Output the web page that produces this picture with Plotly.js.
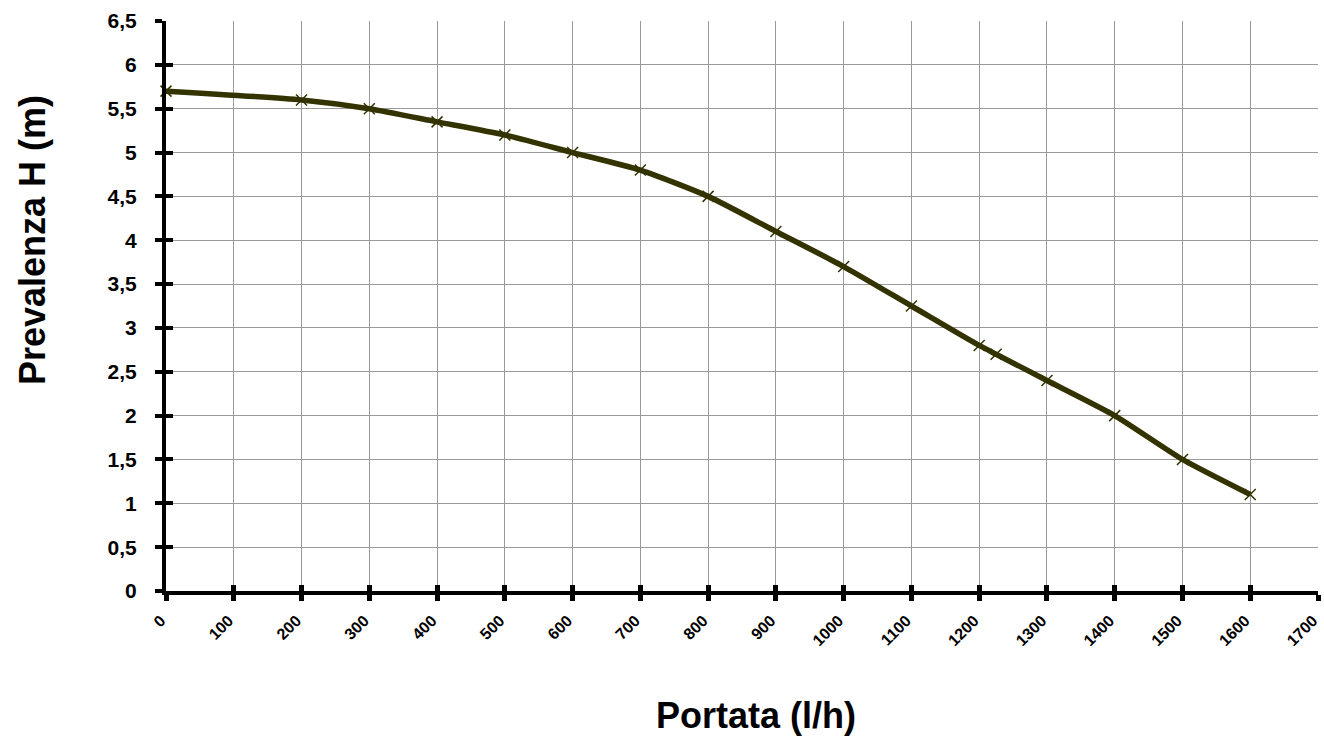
<!DOCTYPE html>
<html><head><meta charset="utf-8">
<script src="https://cdn.plot.ly/plotly-3.0.1.min.js"></script>
<style>html,body{margin:0;padding:0;background:#fff}#c{width:1324px;height:743px}</style>
</head><body><div id="c"></div>
<script>
const portata = [0,200,300,400,500,600,700,800,900,1000,1100,1200,1225,1300,1400,1500,1600];
const prevalenza = [5.7,5.6,5.5,5.35,5.2,5.0,4.8,4.5,4.1,3.7,3.25,2.8,2.7,2.4,2.0,1.5,1.1];
const xTickVals = [0,100,200,300,400,500,600,700,800,900,1000,1100,1200,1300,1400,1500,1600,1700];
const xTickText = ['0','100','200','300','400','500','600','700','800','900','1000','1100','1200','1300','1400','1500','1600','1700'];
const yTickVals = [0,0.5,1,1.5,2,2.5,3,3.5,4,4.5,5,5.5,6,6.5];
const yTickText = ['0','0,5','1','1,5','2','2,5','3','3,5','4','4,5','5','5,5','6','6,5'];
const xTitle = 'Portata (l/h)';
const yTitle = 'Prevalenza H (m)';

const F = 'Liberation Sans, Arial, sans-serif';
const trace = {
  x: portata, y: prevalenza, type:'scatter', mode:'lines+markers',
  line:{color:'#333300', width:5.5, shape:'spline', smoothing:0.6},
  marker:{symbol:'x-thin', size:11, line:{color:'#333300', width:1.5}, color:'#333300'},
  cliponaxis:false, hoverinfo:'skip', showlegend:false
};
const dummy = {x:[0], y:[0], xaxis:'x2', yaxis:'y2', mode:'markers', marker:{opacity:0}, showlegend:false, hoverinfo:'skip'};
const layout = {
  width:1324, height:743,
  margin:{l:166, r:6, t:21, b:152},
  paper_bgcolor:'#fff', plot_bgcolor:'#fff',
  font:{family:F, color:'#000'},
  xaxis:{
    range:[0,1700], tickmode:'array', tickvals:xTickVals, ticktext:xTickText,
    tickangle:-45, tickfont:{family:F, size:16, weight:'bold'},
    showgrid:true, gridcolor:'#9a9a9a', gridwidth:1,
    showline:true, linecolor:'#000', linewidth:4,
    ticks:'outside', ticklen:6, tickwidth:5, tickcolor:'#000',
    zeroline:false, fixedrange:true, ticklabeloverflow:'allow', ticklabelstandoff:4, ticklabelshift:-5
  },
  yaxis:{
    range:[0,6.5], tickmode:'array', tickvals:yTickVals, ticktext:yTickText,
    tickfont:{family:F, size:21, weight:'bold'},
    showgrid:true, gridcolor:'#9a9a9a', gridwidth:1,
    showline:true, linecolor:'#000', linewidth:4,
    ticks:'outside', ticklen:7, tickwidth:4, tickcolor:'#000',
    zeroline:false, fixedrange:true, ticklabelstandoff:14, ticklabeloverflow:'allow'
  },
  xaxis2:{overlaying:'x', range:[0,1700], tickmode:'array', tickvals:xTickVals, showticklabels:false,
    ticks:'inside', ticklen:6, tickwidth:5, tickcolor:'#000', showgrid:false, zeroline:false, showline:false, side:'bottom', fixedrange:true},
  yaxis2:{overlaying:'y', range:[0,6.5], tickmode:'array', tickvals:yTickVals, showticklabels:false,
    ticks:'inside', ticklen:7, tickwidth:4, tickcolor:'#000', showgrid:false, zeroline:false, showline:false, side:'left', fixedrange:true},
  annotations:[
    {text:xTitle, xref:'paper', yref:'paper', x:0.5, y:0, xshift:14, yshift:-124, xanchor:'center', yanchor:'middle',
     showarrow:false, font:{family:F, size:36, weight:'bold', color:'#000'}},
    {text:yTitle, xref:'paper', yref:'paper', x:0, y:0.5, xshift:-134, yshift:66, textangle:-90, xanchor:'center', yanchor:'middle',
     showarrow:false, font:{family:F, size:36, weight:'bold', color:'#000'}}
  ]
};
Plotly.newPlot('c', [dummy, trace], layout, {staticPlot:true});
</script></body></html>
